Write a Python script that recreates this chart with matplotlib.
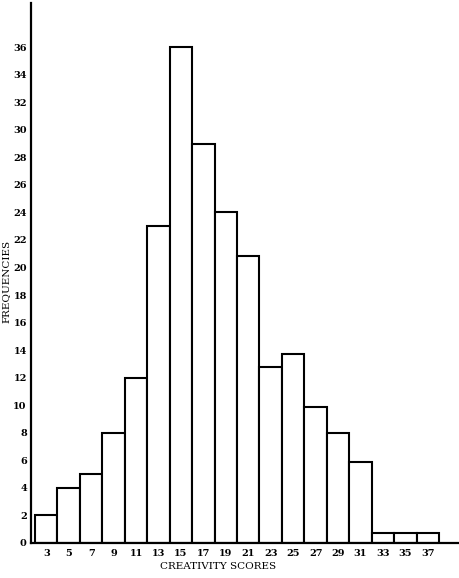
import matplotlib
matplotlib.use("Agg")
import matplotlib.pyplot as plt

scores = [3, 5, 7, 9, 11, 13, 15, 17, 19, 21, 23, 25, 27, 29, 31, 33, 35, 37]
frequencies = [2, 4, 5, 8, 12, 23, 36, 29, 24, 20.8, 12.8, 13.7, 9.9, 8, 5.9, 0.7, 0.7, 0.7]
yticks = list(range(0, 37, 2))
xlabel = "CREATIVITY SCORES"
ylabel = "FREQUENCIES"

fig = plt.figure(figsize=(4.6, 5.78), dpi=100)
ax = fig.add_axes([31/460, 1 - 543/578, 427/460, 540/578])

ax.bar(scores, frequencies, width=2, color="white", edgecolor="black", linewidth=1.5, align="center")

ax.set_xlim(1.64, 39.69)
ax.set_ylim(0, 39.2)

for s in ["top", "right"]:
    ax.spines[s].set_visible(False)
for s in ["left", "bottom"]:
    ax.spines[s].set_linewidth(1.6)

ax.set_xticks(scores)
ax.set_xticklabels([str(s) for s in scores], fontfamily="DejaVu Serif", fontsize=7, fontweight="bold")
ax.set_yticks(yticks)
ax.set_yticklabels([str(v) for v in yticks], fontfamily="DejaVu Serif", fontsize=7, fontweight="bold")
ax.tick_params(axis="both", length=0)
ax.tick_params(axis="x", pad=4)
ax.tick_params(axis="y", pad=3)

ax.set_xlabel(xlabel, fontfamily="DejaVu Serif", fontsize=7.5, labelpad=2)
ax.xaxis.set_label_coords((218 - 31) / 427, -0.035)
ax.set_ylabel(ylabel, fontfamily="DejaVu Serif", fontsize=7.5)
ax.yaxis.set_label_coords((11 - 31) / 427, 0.485)

fig.savefig("out.png", dpi=100)
